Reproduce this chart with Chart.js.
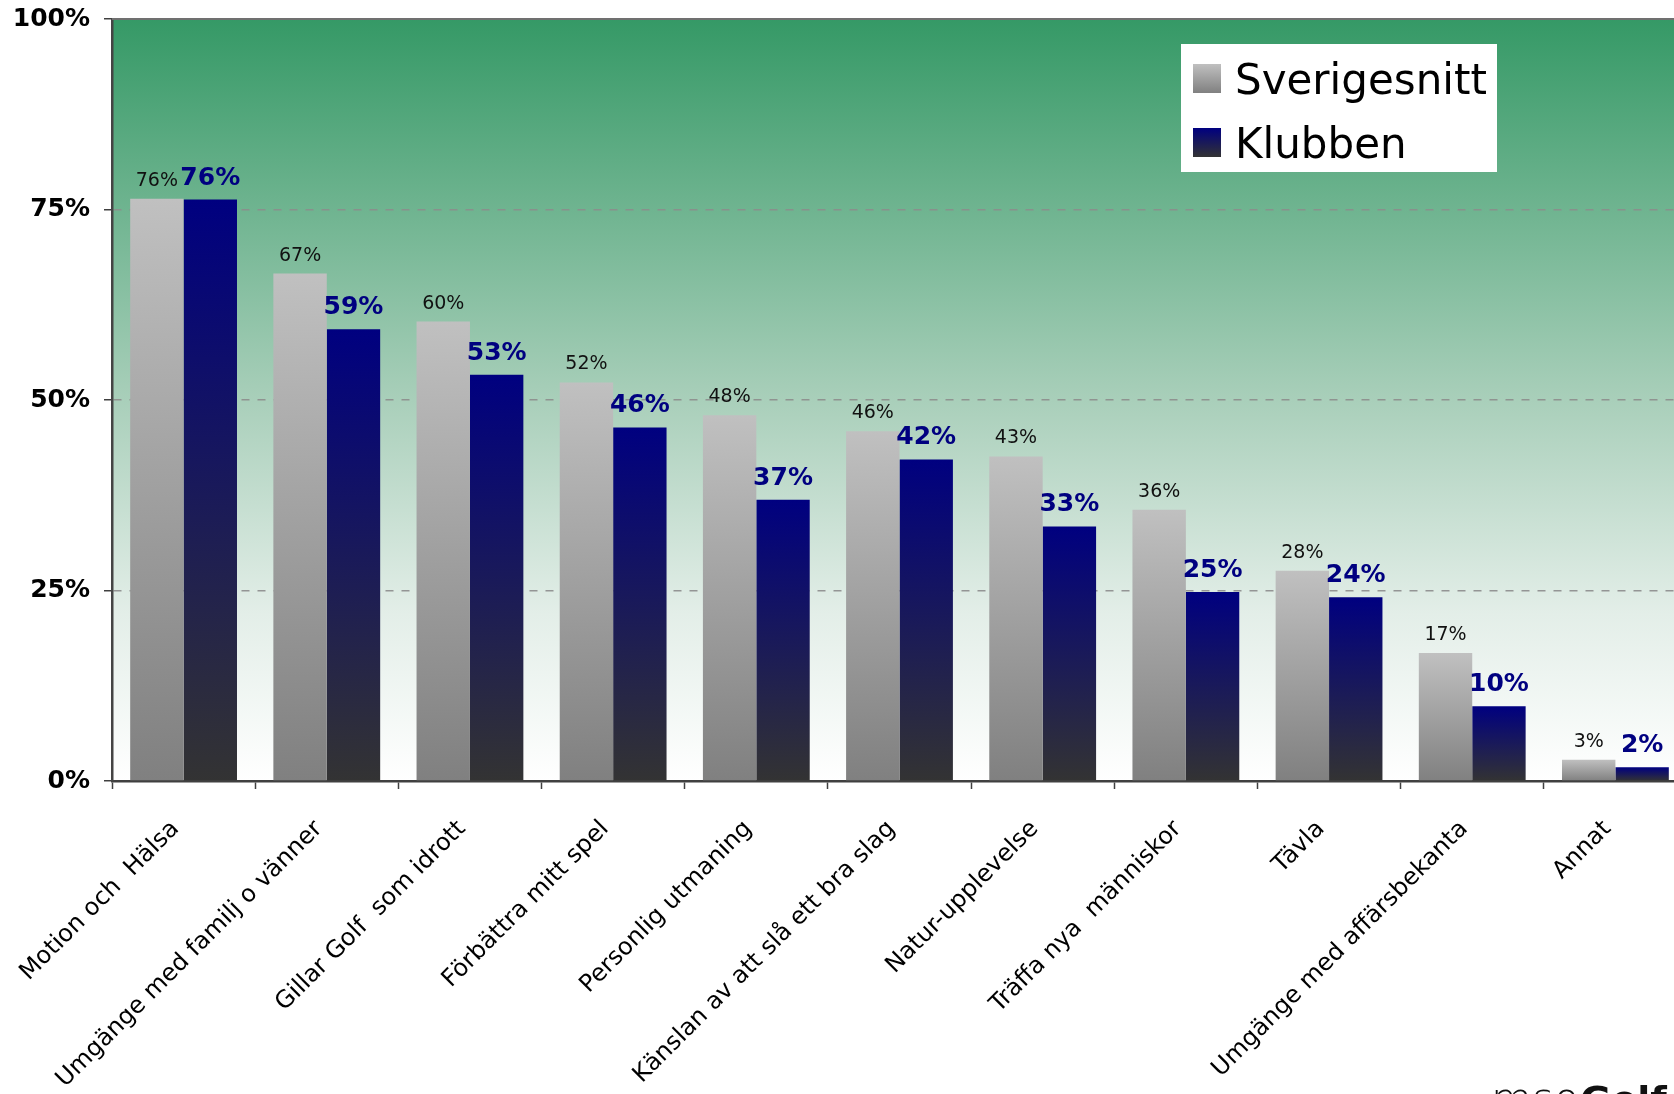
<!DOCTYPE html>
<html>
<head>
<meta charset="utf-8">
<title>Skäl till att spela golf</title>
<script src="https://cdn.jsdelivr.net/npm/chart.js@4.4.0/dist/chart.umd.min.js"></script>
<style>
    html, body { margin: 0; padding: 0; background: #fff; overflow: hidden; }
    #wrap { width: 1690px; height: 1094px; }
</style>
</head>
<body>
<div id="wrap"><canvas id="reasonsChart" width="1690" height="1094"></canvas></div>
<script>
const categories = [
    "Motion och  Hälsa",
    "Umgänge med familj o vänner",
    "Gillar Golf  som idrott",
    "Förbättra mitt spel",
    "Personlig utmaning",
    "Känslan av att slå ett bra slag",
    "Natur-upplevelse",
    "Träffa nya  människor",
    "Tävla",
    "Umgänge med affärsbekanta",
    "Annat"
];
const sverigeValues = [76.4, 66.6, 60.3, 52.3, 48.0, 45.9, 42.6, 35.6, 27.6, 16.8, 2.8];
const klubbenValues = [76.3, 59.3, 53.3, 46.4, 36.9, 42.2, 33.4, 24.8, 24.1, 9.8, 1.8];
const yTicks = [0, 25, 50, 75, 100];

const FONT = '"DejaVu Sans", Verdana, sans-serif';

// top / bottom colours of the bar gradients
const greyShade = ['#c0c0c0', '#808080'];
const navyShade = ['#000080', '#333333'];

// gradient per bar, from the bar top down to the zero line
function barGradient(shade) {
    return function(ctx) {
        const chart = ctx.chart;
        const y = chart.scales && chart.scales.y;
        if (!y || ctx.raw == null) return shade[0];
        const top = y.getPixelForValue(ctx.raw);
        const base = y.getPixelForValue(0);
        if (!isFinite(top) || !isFinite(base) || top === base) return shade[0];
        const g = chart.ctx.createLinearGradient(0, top, 0, base);
        g.addColorStop(0, shade[0]);
        g.addColorStop(1, shade[1]);
        return g;
    };
}

const plotBackground = {
    id: 'plotBackground',
    beforeDraw(chart) {
        const { ctx, chartArea: a } = chart;
        const g = ctx.createLinearGradient(0, a.top, 0, a.bottom);
        g.addColorStop(0, '#359966');
        g.addColorStop(0.5, '#a9cfba');
        g.addColorStop(0.78, '#e3eee8');
        g.addColorStop(1, '#ffffff');
        ctx.save();
        ctx.fillStyle = g;
        ctx.fillRect(a.left, a.top, a.right - a.left, a.bottom - a.top);
        ctx.restore();
    },
    beforeDatasetsDraw(chart) {
        // grey frame line along the top of the plot
        const { ctx, chartArea: a } = chart;
        ctx.save();
        ctx.strokeStyle = '#707070';
        ctx.lineWidth = 2;
        ctx.beginPath();
        ctx.moveTo(a.left, a.top);
        ctx.lineTo(a.right, a.top);
        ctx.stroke();
        ctx.restore();
    }
};

const barLabels = {
    id: 'barLabels',
    afterDatasetsDraw(chart) {
        const ctx = chart.ctx;
        const styles = [
            { font: '19px ' + FONT, color: '#111111', gap: 13 },
            { font: 'bold 25px ' + FONT, color: '#000080', gap: 15 }
        ];
        ctx.save();
        ctx.textAlign = 'center';
        ctx.textBaseline = 'alphabetic';
        chart.data.datasets.forEach((ds, i) => {
            const meta = chart.getDatasetMeta(i);
            ctx.font = styles[i].font;
            ctx.fillStyle = styles[i].color;
            meta.data.forEach((bar, j) => {
                ctx.fillText(Math.round(ds.data[j]) + '%', bar.x, bar.y - styles[i].gap);
            });
        });
        ctx.restore();
    }
};

const legendBox = {
    id: 'legendBox',
    afterDraw(chart) {
        const ctx = chart.ctx;
        const shades = [greyShade, navyShade];
        ctx.save();
        ctx.fillStyle = '#ffffff';
        ctx.fillRect(1181, 44, 316, 128);
        ctx.font = '42px ' + FONT;
        ctx.textAlign = 'left';
        ctx.textBaseline = 'alphabetic';
        chart.data.datasets.forEach((ds, i) => {
            const top = 64 + i * 64;
            const g = ctx.createLinearGradient(0, top, 0, top + 29);
            g.addColorStop(0, shades[i][0]);
            g.addColorStop(1, shades[i][1]);
            ctx.fillStyle = g;
            ctx.fillRect(1193, top, 28, 29);
            ctx.fillStyle = '#000000';
            ctx.fillText(ds.label, 1235, top + 30);
        });
        // logo, cut off by the bottom edge
        ctx.fillStyle = '#111111';
        ctx.font = '200 42px ' + FONT;
        ctx.fillText('mso', 1491, 1113);
        ctx.font = '900 38px ' + FONT;
        ctx.fillText('Golf', 1580, 1113);
        ctx.restore();
    }
};

const chartData = {
    labels: categories,
    datasets: [
        {
            label: 'Sverigesnitt',
            data: sverigeValues,
            backgroundColor: barGradient(greyShade),
            categoryPercentage: 0.746,
            barPercentage: 1.0
        },
        {
            label: 'Klubben',
            data: klubbenValues,
            backgroundColor: barGradient(navyShade),
            categoryPercentage: 0.746,
            barPercentage: 1.0
        }
    ]
};

const config = {
    type: 'bar',
    data: chartData,
    options: {
        responsive: false,
        devicePixelRatio: 1,
        animation: false,
        layout: {
            padding: { top: 19, right: 3, left: 0, bottom: 0 }
        },
        scales: {
            x: {
                afterFit: function(scale) { scale.height = 313; },
                grid: {
                    offset: true,
                    drawOnChartArea: false,
                    drawTicks: true,
                    tickLength: 8,
                    tickColor: '#404040',
                    tickWidth: 1.5
                },
                border: { display: true, color: '#404040', width: 2.5 },
                ticks: {
                    autoSkip: false,
                    minRotation: 45,
                    maxRotation: 45,
                    padding: 26,
                    labelOffset: -8,
                    color: '#000000',
                    font: { family: FONT, size: 24 }
                }
            },
            y: {
                min: 0,
                max: 100,
                afterFit: function(scale) {
                    scale.width = 112;
                    scale.paddingTop = 0;
                    scale.paddingBottom = 0;
                },
                afterBuildTicks: function(scale) {
                    scale.ticks = yTicks.map(v => ({ value: v }));
                },
                grid: {
                    drawTicks: true,
                    tickLength: 8,
                    tickColor: '#404040',
                    tickWidth: 1.5,
                    lineWidth: 1.5,
                    color: function(ctx) {
                        const v = ctx.tick && ctx.tick.value;
                        return (v === 0 || v === 100) ? 'rgba(0,0,0,0)' : 'rgba(140,140,140,0.9)';
                    }
                },
                border: { display: true, color: '#444444', width: 2.5, dash: [8, 8] },
                ticks: {
                    padding: 14,
                    color: '#000000',
                    font: { family: FONT, size: 25, weight: 'bold' },
                    callback: function(value) {
                        return value + '%';
                    }
                }
            }
        },
        plugins: {
            legend: { display: false },
            tooltip: { enabled: false }
        }
    },
    plugins: [plotBackground, barLabels, legendBox]
};

const reasonsChart = new Chart(document.getElementById('reasonsChart'), config);
</script>
</body>
</html>
